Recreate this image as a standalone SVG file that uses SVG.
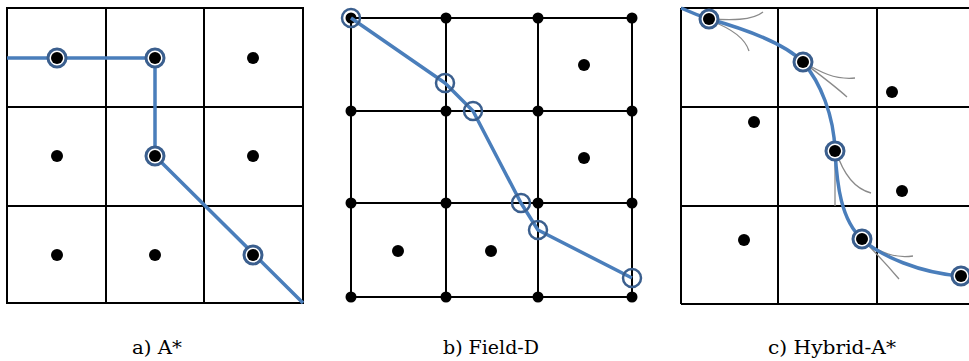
<svg xmlns="http://www.w3.org/2000/svg" width="969" height="361" viewBox="0 0 969 361">
<style>
.grid{fill:none;stroke:#000;stroke-width:2}
.dot{fill:#000}
.path{fill:none;stroke:#4a7ebb;stroke-width:3.5;stroke-linecap:butt;stroke-linejoin:round}
.ring{fill:#fff;stroke:#3b5f8e;stroke-width:3}
.ringo{fill:none;stroke:#3b5f8e;stroke-width:2.5}
.branch{fill:none;stroke:#8a8a8a;stroke-width:1.3}
.lbl{font-family:"DejaVu Serif","Liberation Serif",serif;font-size:18px;fill:#000;text-anchor:middle}
</style>
<rect width="969" height="361" fill="#fff"/>

<!-- Panel a: A* -->
<g id="panel-a">
  <g id="grid-a" class="grid">
    <rect x="7" y="8" width="296" height="295"/>
    <line x1="106" y1="8" x2="106" y2="303"/>
    <line x1="204" y1="8" x2="204" y2="303"/>
    <line x1="7" y1="107" x2="303" y2="107"/>
    <line x1="7" y1="206" x2="303" y2="206"/>
  </g>
  <g id="dots-a" class="dot">
    <circle cx="253" cy="58" r="6"/>
    <circle cx="57" cy="156" r="6"/>
    <circle cx="253" cy="156" r="6"/>
    <circle cx="57" cy="255" r="6"/>
    <circle cx="155" cy="255" r="6"/>
  </g>
  <g id="connectors-a">
    <polyline class="path" points="7,58 155,58 155,156 303,303"/>
  </g>
  <g id="nodes-a">
    <g id="a-n1"><circle class="ring" cx="57" cy="58" r="9"/><circle class="dot" cx="57" cy="58" r="6"/></g>
    <g id="a-n2"><circle class="ring" cx="155" cy="58" r="9"/><circle class="dot" cx="155" cy="58" r="6"/></g>
    <g id="a-n3"><circle class="ring" cx="155" cy="156" r="9"/><circle class="dot" cx="155" cy="156" r="6"/></g>
    <g id="a-n4"><circle class="ring" cx="253" cy="255" r="9"/><circle class="dot" cx="253" cy="255" r="6"/></g>
  </g>
  <text class="lbl" x="157" y="354" textLength="50" lengthAdjust="spacingAndGlyphs">a) A*</text>
</g>

<!-- Panel b: Field-D -->
<g id="panel-b">
  <g id="grid-b" class="grid">
    <rect x="351" y="18" width="281" height="279"/>
    <line x1="446" y1="18" x2="446" y2="297"/>
    <line x1="538" y1="18" x2="538" y2="297"/>
    <line x1="351" y1="111" x2="632" y2="111"/>
    <line x1="351" y1="203" x2="632" y2="203"/>
  </g>
  <g id="dots-b" class="dot">
    <circle cx="351" cy="18" r="5.5"/><circle cx="446" cy="18" r="5.5"/><circle cx="538" cy="18" r="5.5"/><circle cx="632" cy="18" r="5.5"/>
    <circle cx="351" cy="111" r="5.5"/><circle cx="446" cy="111" r="5.5"/><circle cx="538" cy="111" r="5.5"/><circle cx="632" cy="111" r="5.5"/>
    <circle cx="351" cy="203" r="5.5"/><circle cx="446" cy="203" r="5.5"/><circle cx="538" cy="203" r="5.5"/><circle cx="632" cy="203" r="5.5"/>
    <circle cx="351" cy="297" r="5.5"/><circle cx="446" cy="297" r="5.5"/><circle cx="538" cy="297" r="5.5"/><circle cx="632" cy="297" r="5.5"/>
    <circle cx="584" cy="65" r="6"/>
    <circle cx="584" cy="158" r="6"/>
    <circle cx="398" cy="251" r="6"/>
    <circle cx="491" cy="251" r="6"/>
  </g>
  <g id="connectors-b">
    <polyline class="path" points="351,18 445,83 473,111 521,203 538,230 632,278"/>
  </g>
  <g id="nodes-b" class="ringo">
    <circle id="b-n1" cx="351" cy="18" r="9"/>
    <circle id="b-n2" cx="445" cy="83" r="9"/>
    <circle id="b-n3" cx="473" cy="111" r="9"/>
    <circle id="b-n4" cx="521" cy="203" r="9"/>
    <circle id="b-n5" cx="538" cy="230" r="9"/>
    <circle id="b-n6" cx="632" cy="278" r="9"/>
  </g>
  <text class="lbl" x="491" y="354" textLength="96" lengthAdjust="spacingAndGlyphs">b) Field-D</text>
</g>

<!-- Panel c: Hybrid-A* -->
<g id="panel-c">
  <g id="grid-c" class="grid">
    <line x1="681" y1="8" x2="969" y2="8"/>
    <line x1="681" y1="107" x2="969" y2="107"/>
    <line x1="681" y1="206" x2="969" y2="206"/>
    <line x1="681" y1="304" x2="969" y2="304"/>
    <line x1="681" y1="8" x2="681" y2="304"/>
    <line x1="778" y1="8" x2="778" y2="304"/>
    <line x1="877" y1="8" x2="877" y2="304"/>
  </g>
  <g id="dots-c" class="dot">
    <circle cx="892" cy="92" r="6"/>
    <circle cx="754" cy="122" r="6"/>
    <circle cx="902" cy="191" r="6"/>
    <circle cx="744" cy="240" r="6"/>
  </g>
  <g id="branches-c" class="branch">
    <path d="M709,19 C730,20 752,21 763,12"/>
    <path d="M711,21 C730,28 745,38 749,51"/>
    <path d="M803,62 C820,72 835,80 855,78"/>
    <path d="M803,62 C820,75 835,86 847,97"/>
    <path d="M835,151 L835,206"/>
    <path d="M836,151 C842,170 852,188 871,193"/>
    <path d="M862,239 C878,252 895,259 913,256"/>
    <path d="M862,239 C875,252 888,266 899,279"/>
  </g>
  <g id="connectors-c">
    <path class="path" d="M681,8 C690,12 700,16 709,19 C745,29 785,44 803,62 C820,82 834,115 835,151 C837,185 841,220 862,239 C880,256 920,273 961,276"/>
  </g>
  <g id="nodes-c">
    <g id="c-n1"><circle class="ring" cx="709" cy="19" r="9"/><circle class="dot" cx="709" cy="19" r="6"/></g>
    <g id="c-n2"><circle class="ring" cx="803" cy="62" r="9"/><circle class="dot" cx="803" cy="62" r="6"/></g>
    <g id="c-n3"><circle class="ring" cx="835" cy="151" r="9"/><circle class="dot" cx="835" cy="151" r="6"/></g>
    <g id="c-n4"><circle class="ring" cx="862" cy="239" r="9"/><circle class="dot" cx="862" cy="239" r="6"/></g>
    <g id="c-n5"><circle class="ring" cx="961" cy="276" r="9"/><circle class="dot" cx="961" cy="276" r="6"/></g>
  </g>
  <text class="lbl" x="832" y="354" textLength="128" lengthAdjust="spacingAndGlyphs">c) Hybrid-A*</text>
</g>
</svg>
